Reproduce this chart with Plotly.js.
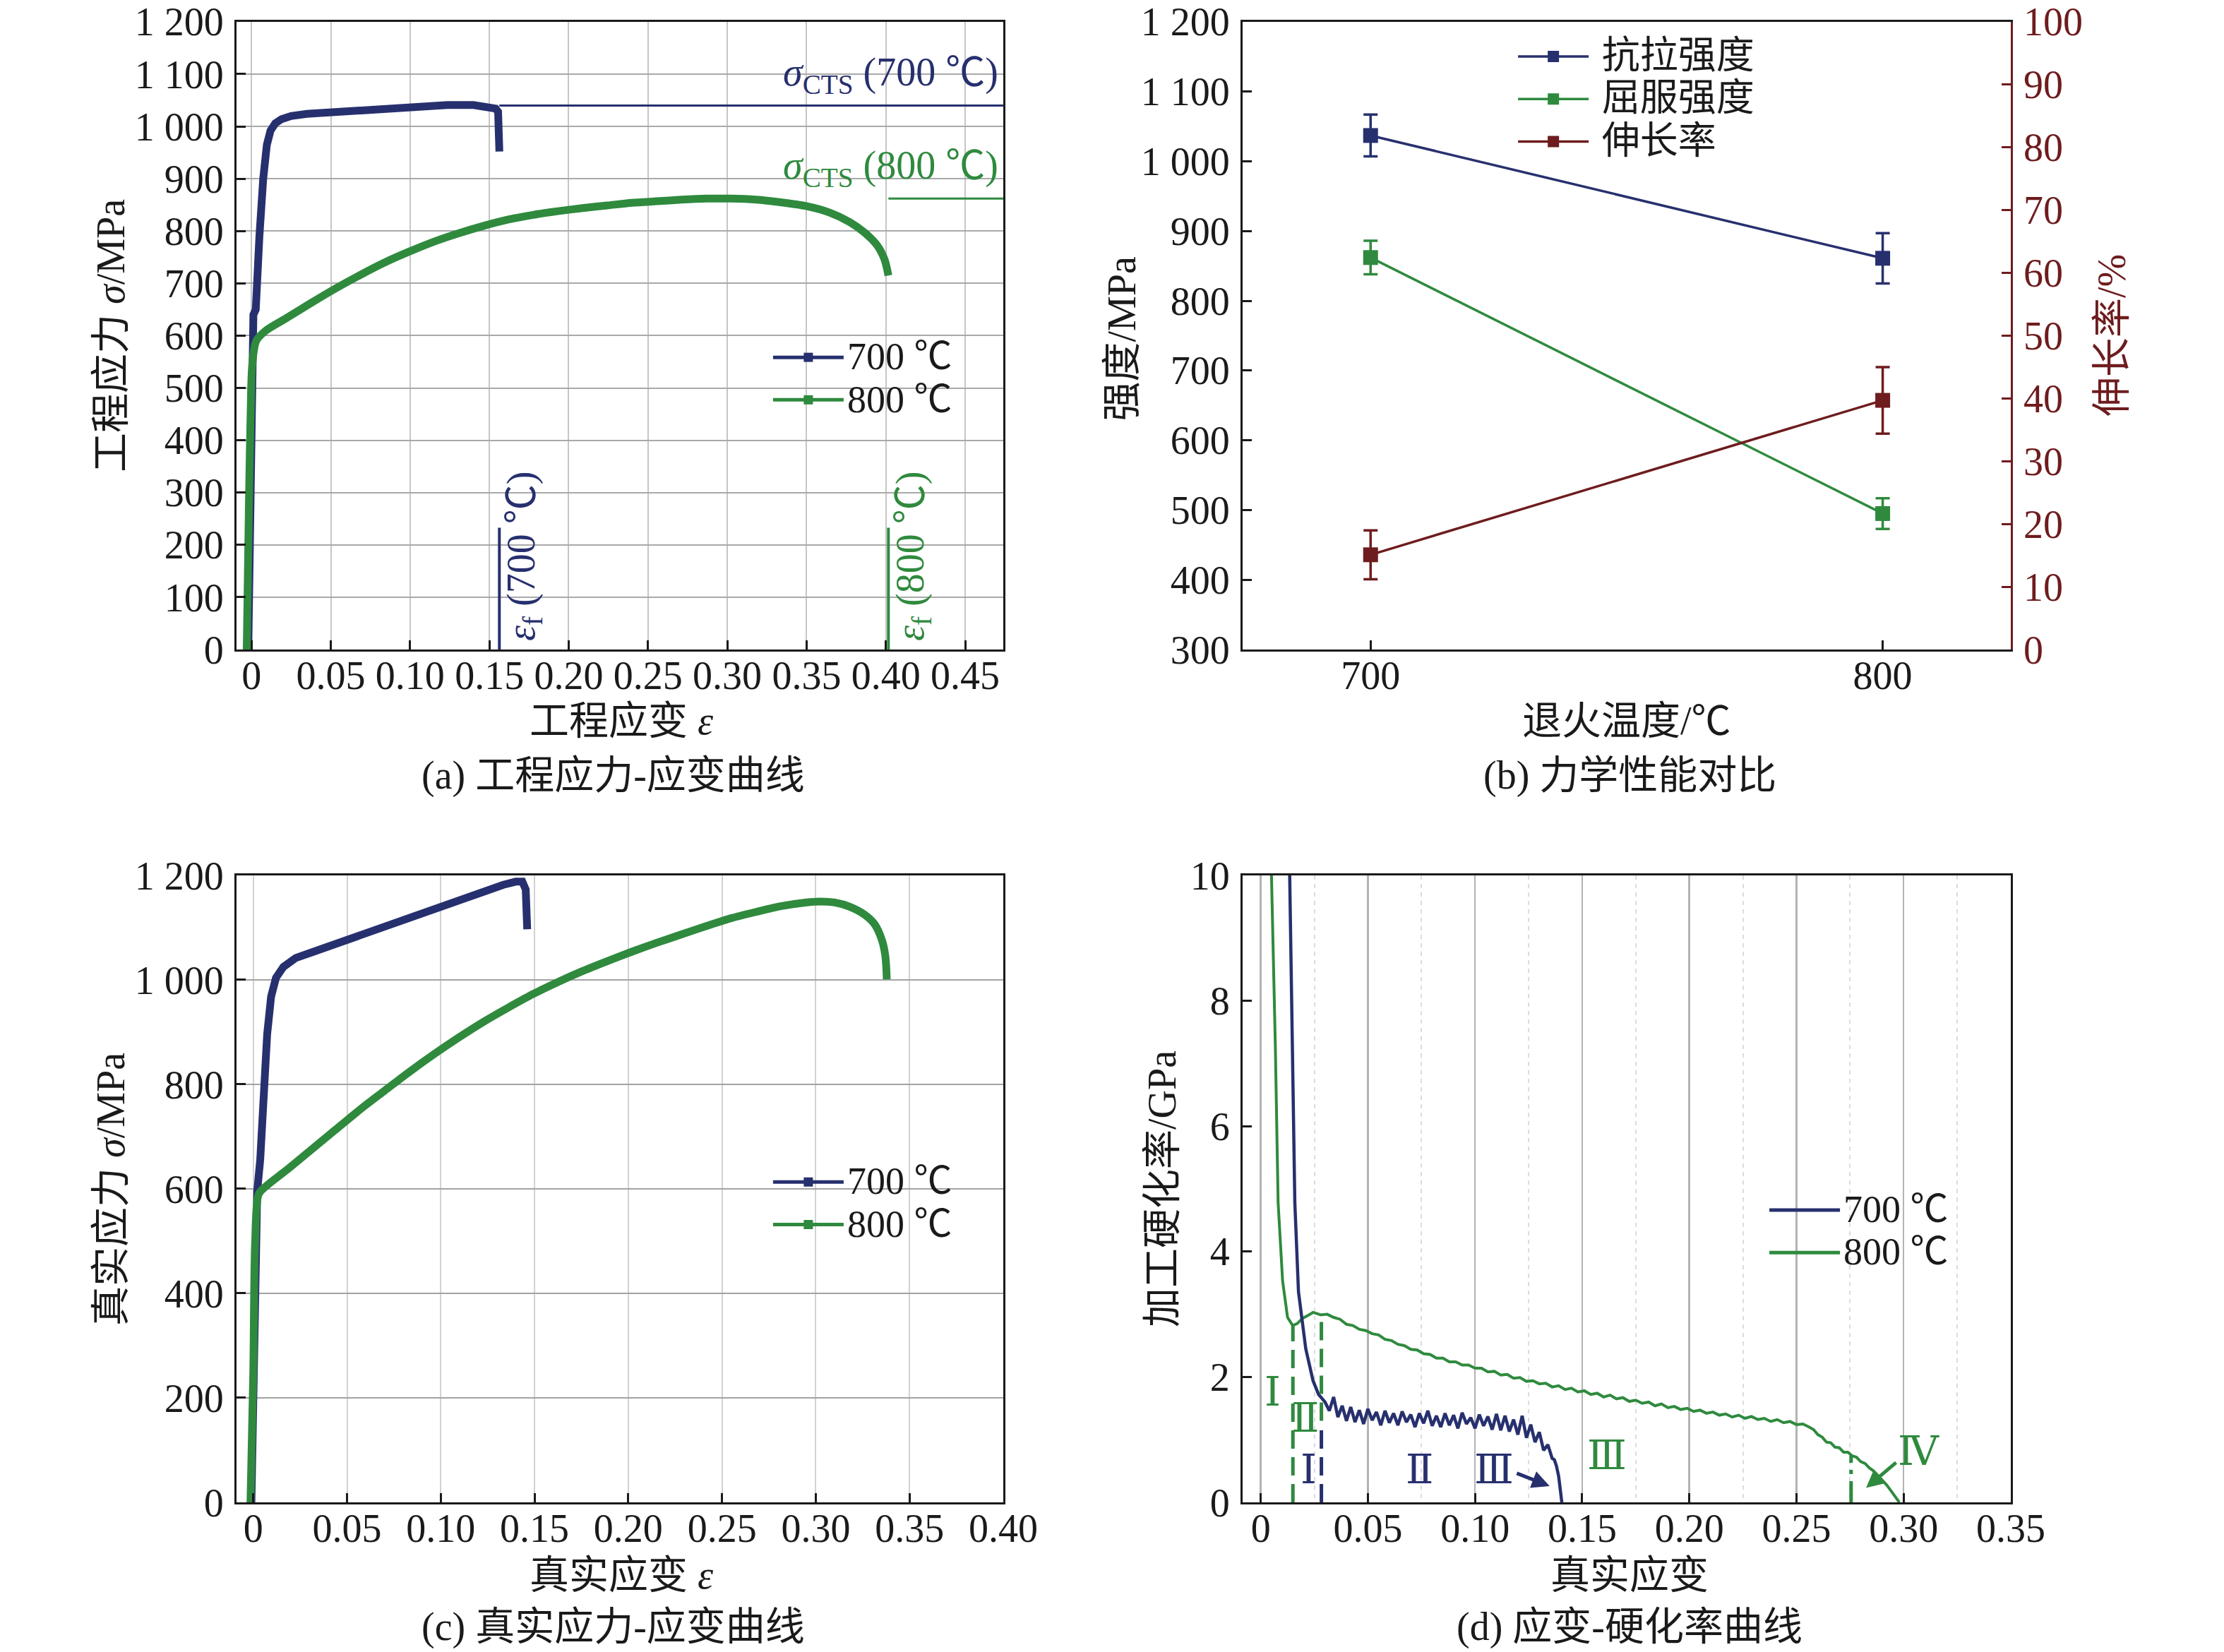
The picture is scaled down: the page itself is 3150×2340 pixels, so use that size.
<!DOCTYPE html>
<html>
<head>
<meta charset="utf-8">
<script src="https://cdn.plot.ly/plotly-3.0.1.min.js"></script>
<style>
  html, body { margin: 0; padding: 0; background: #fff; }
  #chart { width: 3150px; height: 2340px; }
</style>
</head>
<body>
<div id="chart"></div>
<script>
// ---- (a) engineering stress-strain ----
const eng700Strain = [-0.002, 0.0, 0.0007, 0.0012, 0.0027, 0.003, 0.005, 0.0074, 0.0097, 0.012, 0.015, 0.019, 0.025, 0.035, 0.049, 0.065, 0.08, 0.094, 0.11, 0.1235, 0.14, 0.15, 0.154, 0.1555, 0.1562, 0.1563];
const eng700Stress = [0, 300, 556, 640, 650, 680, 790, 900, 965, 992, 1006, 1014, 1020, 1024, 1027, 1031, 1034, 1037, 1039, 1041, 1041, 1038, 1034, 1028, 1000, 952];
const eng800Strain = [-0.003, -0.0015, -0.0002, 0.0005, 0.003, 0.0092, 0.0217, 0.0373, 0.0529, 0.0685, 0.084, 0.0997, 0.1153, 0.1309, 0.1465, 0.162, 0.1776, 0.1932, 0.2088, 0.2244, 0.24, 0.2556, 0.2712, 0.2868, 0.3024, 0.318, 0.3336, 0.3492, 0.3648, 0.3773, 0.3866, 0.3944, 0.3991, 0.4016];
const eng800Stress = [0, 300, 500, 545, 590, 610, 633, 662, 690, 716, 740, 761, 780, 796, 810, 822, 831, 838, 844, 849, 854, 857, 860, 862, 862, 860, 855, 848, 835, 817, 797, 773, 746, 715];
const ctsStress = [1040, 862];          // sigma_CTS, 700 / 800 C
const fractureStrain = [0.1563, 0.4016]; // eps_f, 700 / 800 C
const fractureMarkTop = 233;

// ---- (b) mechanical properties ----
const annealTemp = [700, 800];
const utsMean = [1037, 861];
const utsErr = [30, 36];
const ysMean = [862, 495];
const ysErr = [24, 22];
const elongMean = [15.1, 39.7];
const elongErr = [3.9, 5.3];

// ---- (c) true stress-strain ----
const true700Strain = [-0.001, 0.0002, 0.0021, 0.0037, 0.0055, 0.0074, 0.0095, 0.0121, 0.0161, 0.0227, 0.0306, 0.0438, 0.057, 0.0701, 0.0833, 0.0965, 0.1097, 0.1229, 0.1334, 0.14, 0.1435, 0.1453, 0.1459, 0.1461];
const true700Stress = [0, 265, 596, 656, 776, 896, 968, 1004, 1025, 1042, 1052, 1069, 1085, 1102, 1118, 1135, 1152, 1168, 1182, 1188, 1188, 1173, 1137, 1097];
const true800Strain = [-0.0015, 0.0, 0.001, 0.0029, 0.0068, 0.0174, 0.0306, 0.0438, 0.057, 0.0701, 0.0833, 0.0965, 0.1097, 0.1229, 0.136, 0.1493, 0.1625, 0.1757, 0.1889, 0.202, 0.2152, 0.2284, 0.2416, 0.2548, 0.268, 0.2812, 0.2944, 0.3023, 0.3102, 0.3181, 0.326, 0.3313, 0.3353, 0.3371, 0.3379];
const true800Stress = [0, 250, 500, 590, 605, 635, 674, 713, 752, 788, 824, 858, 890, 920, 947, 973, 996, 1017, 1036, 1054, 1071, 1087, 1103, 1118, 1130, 1141, 1148, 1150, 1148, 1140, 1125, 1107, 1076, 1046, 1001];

// ---- (d) work-hardening rate (GPa) ----
const wh700Strain = [0.0135, 0.0149, 0.0159, 0.0176, 0.021, 0.0244, 0.027, 0.029,
  0.030, 0.032, 0.034, 0.036, 0.038, 0.040, 0.042, 0.044, 0.046, 0.048, 0.050, 0.052, 0.054, 0.056, 0.058,
  0.060, 0.062, 0.064, 0.066, 0.068, 0.070, 0.072, 0.074, 0.076, 0.078, 0.080, 0.082, 0.084, 0.086, 0.088,
  0.090, 0.092, 0.094, 0.096, 0.098, 0.100, 0.102, 0.104, 0.106, 0.108, 0.110, 0.112, 0.114, 0.116, 0.118,
  0.120, 0.122, 0.124, 0.126, 0.128, 0.130, 0.132, 0.134, 0.136, 0.137, 0.138, 0.139, 0.1398, 0.1405];
const wh700Rate = [10, 7.29, 4.78, 3.36, 2.45, 1.94, 1.72, 1.64,
  1.60, 1.46, 1.68, 1.36, 1.54, 1.30, 1.52, 1.28, 1.47, 1.25, 1.49, 1.31, 1.44, 1.23, 1.46,
  1.27, 1.42, 1.23, 1.45, 1.28, 1.40, 1.20, 1.42, 1.26, 1.46, 1.22, 1.38, 1.20, 1.42, 1.23,
  1.39, 1.18, 1.43, 1.25, 1.35, 1.18, 1.40, 1.22, 1.37, 1.16, 1.41, 1.15, 1.38, 1.13, 1.32,
  1.08, 1.38, 1.03, 1.24, 0.96, 1.12, 0.83, 0.92, 0.70, 0.68, 0.58, 0.42, 0.20, 0];
const wh800Strain = [0.005, 0.0068, 0.0081, 0.0102, 0.0125, 0.0149, 0.017, 0.0193, 0.022, 0.0244, 0.028,
  0.031, 0.034, 0.037, 0.040, 0.043, 0.046, 0.049, 0.052, 0.055, 0.058, 0.061, 0.064, 0.067, 0.070,
  0.073, 0.076, 0.079, 0.082, 0.085, 0.088, 0.091, 0.094, 0.097, 0.100, 0.103, 0.106, 0.109, 0.112,
  0.115, 0.118, 0.121, 0.124, 0.127, 0.130, 0.133, 0.136, 0.139, 0.142, 0.145, 0.148, 0.151, 0.154,
  0.157, 0.160, 0.163, 0.166, 0.169, 0.172, 0.175, 0.178, 0.181, 0.184, 0.187, 0.190, 0.193, 0.196,
  0.199, 0.202, 0.205, 0.208, 0.211, 0.214, 0.217, 0.220, 0.223, 0.226, 0.229, 0.232, 0.235, 0.238,
  0.241, 0.244, 0.247, 0.250, 0.253, 0.256, 0.258, 0.260, 0.262, 0.264, 0.266, 0.268, 0.270, 0.272,
  0.274, 0.276, 0.278, 0.280, 0.282, 0.284, 0.286, 0.288, 0.290, 0.292, 0.294, 0.296, 0.298];
const wh800Rate = [10, 7.29, 4.78, 3.53, 2.95, 2.82, 2.85, 2.93, 2.98, 3.03, 2.99,
  3.00, 2.95, 2.92, 2.84, 2.82, 2.76, 2.74, 2.69, 2.67, 2.60, 2.58, 2.52, 2.50, 2.44,
  2.43, 2.37, 2.36, 2.30, 2.30, 2.24, 2.24, 2.19, 2.19, 2.14, 2.14, 2.08, 2.09, 2.03,
  2.04, 1.98, 1.99, 1.93, 1.94, 1.89, 1.90, 1.84, 1.86, 1.80, 1.82, 1.76, 1.78, 1.72,
  1.74, 1.68, 1.71, 1.65, 1.67, 1.61, 1.63, 1.58, 1.60, 1.54, 1.57, 1.51, 1.53, 1.48,
  1.50, 1.45, 1.47, 1.42, 1.44, 1.39, 1.41, 1.36, 1.39, 1.34, 1.37, 1.32, 1.34, 1.29,
  1.32, 1.27, 1.29, 1.24, 1.25, 1.20, 1.16, 1.08, 1.04, 0.96, 0.95, 0.88, 0.87, 0.80,
  0.80, 0.74, 0.72, 0.65, 0.62, 0.55, 0.50, 0.43, 0.36, 0.28, 0.19, 0.10, 0.0];
// stage boundaries: strain, bottom, top (GPa)
const stageLineX = [0.015, 0.0283, 0.0283, 0.2755];
const stageLineY0 = [0, 1.3, 0, 0];
const stageLineY1 = [2.85, 3.0, 1.2, 0.75];
const stageLineSeries = ["800", "800", "700", "800"];
const stageLabels = ["Ⅰ", "Ⅱ", "Ⅰ", "Ⅱ", "Ⅲ", "Ⅲ", "Ⅳ"];
const stageLabelX = [0.0056, 0.0206, 0.0224, 0.074, 0.1087, 0.1617, 0.307];
const stageLabelY = [1.77, 1.35, 0.53, 0.53, 0.53, 0.75, 0.82];
const stageLabelSeries = ["800", "800", "700", "700", "700", "800", "800"];

// ---- ticks ----
const engStrainTicks = [0, 0.05, 0.10, 0.15, 0.20, 0.25, 0.30, 0.35, 0.40, 0.45];
const engStrainText = ["0", "0.05", "0.10", "0.15", "0.20", "0.25", "0.30", "0.35", "0.40", "0.45"];
const engStressTicks = [0, 100, 200, 300, 400, 500, 600, 700, 800, 900, 1000, 1100, 1200];
const engStressText = ["0", "100", "200", "300", "400", "500", "600", "700", "800", "900", "1 000", "1 100", "1 200"];
const strengthTicks = [300, 400, 500, 600, 700, 800, 900, 1000, 1100, 1200];
const strengthText = ["300", "400", "500", "600", "700", "800", "900", "1 000", "1 100", "1 200"];
const elongTicks = [0, 10, 20, 30, 40, 50, 60, 70, 80, 90, 100];
const trueStrainTicks = [0, 0.05, 0.10, 0.15, 0.20, 0.25, 0.30, 0.35, 0.40];
const trueStrainText = ["0", "0.05", "0.10", "0.15", "0.20", "0.25", "0.30", "0.35", "0.40"];
const trueStressTicks = [0, 200, 400, 600, 800, 1000, 1200];
const trueStressText = ["0", "200", "400", "600", "800", "1 000", "1 200"];
const whStrainTicks = [0, 0.05, 0.10, 0.15, 0.20, 0.25, 0.30, 0.35];
const whStrainText = ["0", "0.05", "0.10", "0.15", "0.20", "0.25", "0.30", "0.35"];
const whMinorTicks = [0.025, 0.075, 0.125, 0.175, 0.225, 0.275, 0.325];
const whRateTicks = [0, 2, 4, 6, 8, 10];

const NAVY = "#27306e";
const GREEN = "#2f8a3e";
const MAROON = "#6e1c1e";
const INK = "#1a1a1a";
const FONT = 'Liberation Serif, "Noto Sans CJK SC", serif';
const FS = 56;
const LEGEND_ROW_FS = 44;   // sets the row pitch of the legends
const LEGEND_TEXT_FS = 54;  // size the legend labels are drawn at

const ENG_X_RANGE = [-0.0095, 0.474];
const seriesColor = { "700": NAVY, "800": GREEN };
const legendName = (s) => `<span style="font-size:${LEGEND_TEXT_FS}px">${s}</span>`;

function axis(extra) {
  return Object.assign({
    showline: true, linewidth: 3, linecolor: INK, mirror: true,
    ticks: "inside", ticklen: 13, tickwidth: 3, tickcolor: INK,
    zeroline: false, showgrid: false, tickmode: "array",
    tickfont: { family: FONT, size: FS, color: INK }, fixedrange: true,
  }, extra);
}
const xAxis = (extra) => axis(Object.assign({ ticklabelstandoff: -14 }, extra));
const yAxis = (extra) => axis(Object.assign({ ticklabelstandoff: 4 }, extra));

function legendBox(x, y) {
  return {
    x, y, xanchor: "left", yanchor: "top", bgcolor: "rgba(0,0,0,0)",
    font: { family: FONT, size: LEGEND_ROW_FS, color: INK }, itemwidth: 100, tracegroupgap: 0,
  };
}

const traces = [];

// (a)
traces.push({ x: eng700Strain, y: eng700Stress, xaxis: "x", yaxis: "y", mode: "lines",
  line: { color: NAVY, width: 11 }, showlegend: false, hoverinfo: "skip" });
traces.push({ x: eng800Strain, y: eng800Stress, xaxis: "x", yaxis: "y", mode: "lines",
  line: { color: GREEN, width: 11, shape: "spline", smoothing: 0.8 }, showlegend: false, hoverinfo: "skip" });
// (c)
traces.push({ x: true700Strain, y: true700Stress, xaxis: "x3", yaxis: "y3", mode: "lines",
  line: { color: NAVY, width: 11 }, showlegend: false, hoverinfo: "skip" });
traces.push({ x: true800Strain, y: true800Stress, xaxis: "x3", yaxis: "y3", mode: "lines",
  line: { color: GREEN, width: 11, shape: "spline", smoothing: 0.8 }, showlegend: false, hoverinfo: "skip" });
// (d)
traces.push({ x: wh800Strain, y: wh800Rate, xaxis: "x4", yaxis: "y4", mode: "lines",
  line: { color: GREEN, width: 4 }, showlegend: false, hoverinfo: "skip" });
traces.push({ x: wh700Strain, y: wh700Rate, xaxis: "x4", yaxis: "y4", mode: "lines",
  line: { color: NAVY, width: 4.5 }, showlegend: false, hoverinfo: "skip" });

// legend-only entries for (a), (c), (d)
for (const [lg, ax, ay, withMarker] of [["legend", "x", "y", true], ["legend3", "x3", "y3", true], ["legend4", "x4", "y4", false]]) {
  for (const s of ["700", "800"]) {
    traces.push({
      x: [null], y: [null], xaxis: ax, yaxis: ay, legend: lg,
      mode: withMarker ? "lines+markers" : "lines",
      name: legendName(`${s} ℃`),
      line: { color: seriesColor[s], width: 5 },
      marker: { color: seriesColor[s], symbol: "square", size: 13 },
    });
  }
}

// (b)
function pushProperty(y, err, name, color, yaxis) {
  traces.push({
    x: annealTemp, y, xaxis: "x2", yaxis, name: legendName(" " + name), legend: "legend2",
    mode: "lines+markers",
    line: { color, width: 3.5 },
    marker: { color, symbol: "square", size: 21 },
    error_y: { type: "data", array: err, visible: true, color, thickness: 3.5, width: 10 },
  });
}
pushProperty(utsMean, utsErr, "抗拉强度", NAVY, "y2");
pushProperty(ysMean, ysErr, "屈服强度", GREEN, "y2");
pushProperty(elongMean, elongErr, "伸长率", MAROON, "y5");

const shapes = [];
// sigma_CTS horizontal reference lines and eps_f markers in (a)
[NAVY, GREEN].forEach((c, i) => {
  shapes.push({ type: "line", xref: "x", yref: "y", x0: fractureStrain[i], x1: ENG_X_RANGE[1],
    y0: ctsStress[i], y1: ctsStress[i], line: { color: c, width: 3 } });
  shapes.push({ type: "line", xref: "x", yref: "y", x0: fractureStrain[i], x1: fractureStrain[i],
    y0: 0, y1: fractureMarkTop, line: { color: c, width: 4 } });
});
// stage boundaries in (d)
stageLineX.forEach((x, i) => {
  const s = stageLineSeries[i];
  shapes.push({ type: "line", xref: "x4", yref: "y4", x0: x, x1: x, y0: stageLineY0[i], y1: stageLineY1[i],
    line: { color: seriesColor[s], width: 5, dash: i === 3 ? "30px,10px,6px,10px" : "26px,12px" } });
});

const txt = (color, size) => ({ family: FONT, size: size || FS, color: color || INK });
const annotations = [];
function paperText(text, x, y, angle, color) {
  annotations.push({ text, x, y, xref: "paper", yref: "paper", showarrow: false,
    xanchor: "center", yanchor: "middle", textangle: angle || 0, font: txt(color) });
}
// axis titles
paperText("工程应变 <i>ε</i>", 0.2794, 0.5638);
paperText("工程应力 <i>σ</i>/MPa", 0.0498, 0.797, -90);
paperText("退火温度/℃", 0.7314, 0.5638);
paperText("强度/MPa", 0.5044, 0.795, -90);
paperText("伸长率/%", 0.9495, 0.797, -90, MAROON);
paperText("真实应变 <i>ε</i>", 0.2794, 0.0465);
paperText("真实应力 <i>σ</i>/MPa", 0.0498, 0.2803, -90);
paperText("真实应变", 0.7327, 0.0465);
paperText("加工硬化率/GPa", 0.5225, 0.2803, -90);
// captions
paperText("(a) 工程应力-应变曲线", 0.2756, 0.5305);
paperText("(b) 力学性能对比", 0.7327, 0.5305);
paperText("(c) 真实应力-应变曲线", 0.2756, 0.0150);
paperText("(d) 应变-硬化率曲线", 0.7327, 0.0150);

// labels in (a)
["700", "800"].forEach((s, i) => {
  annotations.push({ text: `<i>σ</i><sub>CTS</sub> (${s} ℃)`, xref: "x", yref: "y",
    x: ENG_X_RANGE[1] - 0.002, y: ctsStress[i] + 58, xanchor: "right", yanchor: "middle",
    showarrow: false, font: txt(seriesColor[s]) });
  annotations.push({ text: `<i>ε</i><sub>f</sub> (${s} ℃)`, xref: "x", yref: "y",
    x: fractureStrain[i] + 0.0154, y: 178, textangle: -90, xanchor: "center", yanchor: "middle",
    showarrow: false, font: txt(seriesColor[s]) });
});

// stage labels in (d)
stageLabels.forEach((t, i) => {
  annotations.push({ text: t, xref: "x4", yref: "y4", x: stageLabelX[i], y: stageLabelY[i],
    showarrow: false, xanchor: "center", yanchor: "middle",
    font: { family: 'DejaVu Serif, "Liberation Serif", "Noto Sans CJK SC"', size: 58, color: seriesColor[stageLabelSeries[i]] } });
});
annotations.push({ text: "", xref: "x4", yref: "y4", axref: "x4", ayref: "y4",
  x: 0.1348, y: 0.26, ax: 0.119, ay: 0.47, showarrow: true, arrowhead: 2, arrowsize: 1, arrowwidth: 5, arrowcolor: NAVY });
annotations.push({ text: "", xref: "x4", yref: "y4", axref: "x4", ayref: "y4",
  x: 0.2825, y: 0.23, ax: 0.297, ay: 0.65, showarrow: true, arrowhead: 2, arrowsize: 1, arrowwidth: 5, arrowcolor: GREEN });

const layout = {
  width: 3150, height: 2340,
  margin: { l: 0, r: 0, t: 0, b: 0 },
  paper_bgcolor: "#fff", plot_bgcolor: "#fff",
  font: { family: FONT, size: FS, color: INK },
  showlegend: true,
  // (a)
  xaxis: xAxis({ domain: [0.1063, 0.4511], anchor: "y", range: ENG_X_RANGE,
    tickvals: engStrainTicks, ticktext: engStrainText,
    showgrid: true, gridcolor: "#c6c6c6", gridwidth: 2 }),
  yaxis: yAxis({ domain: [0.6068, 0.9868], anchor: "x", range: [0, 1200],
    tickvals: engStressTicks, ticktext: engStressText,
    showgrid: true, gridcolor: "#a9a9a9", gridwidth: 2 }),
  // (b)
  xaxis2: xAxis({ domain: [0.5587, 0.9041], anchor: "y2", range: [675, 825],
    tickvals: annealTemp, ticktext: annealTemp.map(String) }),
  yaxis2: yAxis({ domain: [0.6068, 0.9868], anchor: "x2", range: [300, 1200], mirror: false,
    tickvals: strengthTicks, ticktext: strengthText }),
  yaxis5: yAxis({ overlaying: "y2", side: "right", anchor: "x2", range: [0, 100], mirror: false,
    linecolor: MAROON, tickcolor: MAROON, tickvals: elongTicks, ticktext: elongTicks.map(String),
    tickfont: { family: FONT, size: FS, color: MAROON } }),
  // (c)
  xaxis3: xAxis({ domain: [0.1063, 0.4511], anchor: "y3", range: [-0.009, 0.40],
    tickvals: trueStrainTicks, ticktext: trueStrainText,
    showgrid: true, gridcolor: "#d2d2d2", gridwidth: 2 }),
  yaxis3: yAxis({ domain: [0.0906, 0.4701], anchor: "x3", range: [0, 1200],
    tickvals: trueStressTicks, ticktext: trueStressText,
    showgrid: true, gridcolor: "#a3a3a3", gridwidth: 2 }),
  // (d)
  xaxis4: xAxis({ domain: [0.5587, 0.9041], anchor: "y4", range: [-0.0085, 0.35],
    tickvals: whStrainTicks, ticktext: whStrainText,
    showgrid: true, gridcolor: "#b3b3b3", gridwidth: 2.5,
    minor: { tickmode: "array", tickvals: whMinorTicks,
      showgrid: true, gridcolor: "#dcdcdc", gridwidth: 2, griddash: "6px,6px", ticks: "" } }),
  yaxis4: yAxis({ domain: [0.0906, 0.4701], anchor: "x4", range: [0, 10],
    tickvals: whRateTicks, ticktext: whRateTicks.map(String) }),
  legend: legendBox(0.346, 0.7987),
  legend2: legendBox(0.681, 0.9808),
  legend3: legendBox(0.346, 0.2995),
  legend4: legendBox(0.794, 0.2825),
  shapes,
  annotations,
};

Plotly.newPlot("chart", traces, layout, { staticPlot: true, displayModeBar: false });
</script>
</body>
</html>
